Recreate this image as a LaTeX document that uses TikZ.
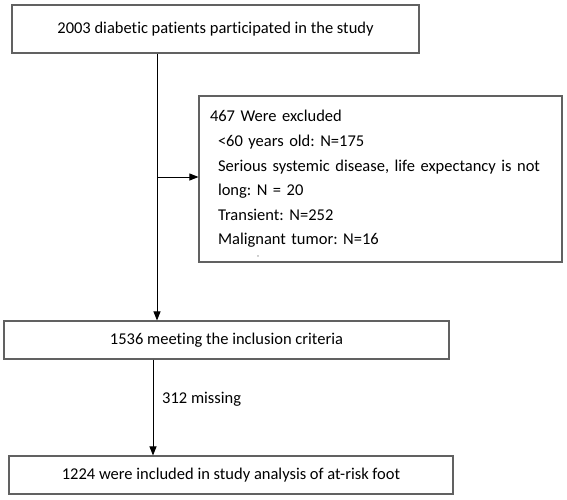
\documentclass[tikz,border=0pt]{standalone}
\usepackage{fontspec}
\setmainfont{Carlito}[Ligatures=NoCommon]
\usetikzlibrary{arrows.meta}

\begin{document}
\frenchspacing
\begin{tikzpicture}[x=1pt,y=-1pt,
  % 方框的style
  kuang/.style={draw=black!62,line width=1.1pt,inner sep=0pt,
    font=\fontsize{16.5}{19}\selectfont},
  % 箭头的style
  jiantou/.style={draw=black,line width=0.9pt,
    -{Triangle[length=9pt,width=7pt]}}]

  \useasboundingbox (0,0) rectangle (567,499);

  % 四个方框
  \node[kuang,minimum width=407pt,minimum height=48pt] (canyu) at (215.5,29)
    {\raisebox{3pt}{2003 diabetic patients participated in the study}};
  \node[kuang,minimum width=363pt,minimum height=166pt,
    text width=341pt,align=left,
    font=\fontsize{16.5}{24.6}\selectfont] (paichu) at (380.5,179)
    {467 Were excluded\\
     \hspace*{8pt}<60 years old: N=175\\
     \hspace*{8pt}Serious systemic disease, life expectancy is not\\
     \hspace*{8pt}long: N = 20\\
     \hspace*{8pt}Transient: N=252\\
     \hspace*{8pt}Malignant tumor: N=16};
  \node[kuang,minimum width=445pt,minimum height=38pt] (fuhe) at (226.5,340)
    {1536 meeting the inclusion criteria};
  \node[kuang,minimum width=444pt,minimum height=38pt] (naru) at (231,475)
    {1224 were included in study analysis of at-risk foot};

  % 小记号
  \node[text=black!45,font=\scriptsize,inner sep=0pt] (dian) at (258,258) {''};

  % 分叉点
  \coordinate (fen) at (157,177);

  % 画箭头
  \draw[jiantou] (canyu.south -| fen) -- (fuhe.north -| fen);
  \draw[jiantou] (fen) -- (fen -| paichu.west);
  \draw[jiantou] (fuhe.south -| 153,0) -- (naru.north -| 153,0);

  % 箭头旁边的文字
  \node[font=\fontsize{16.5}{19}\selectfont,anchor=west,inner sep=0pt] (queshi)
    at (162,399) {312 missing};

\end{tikzpicture}
\end{document}
